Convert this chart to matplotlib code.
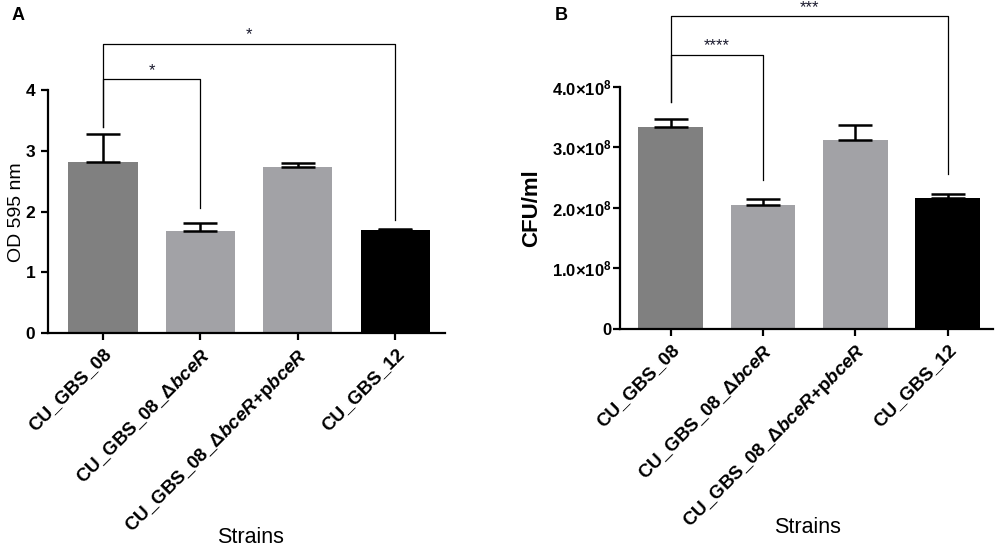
import numpy as np
import matplotlib.pyplot as plt

plt.rcParams['font.family'] = ['Liberation Sans', 'DejaVu Sans']
plt.rcParams['mathtext.fontset'] = 'custom'
plt.rcParams['mathtext.rm'] = 'Liberation Sans:bold'
plt.rcParams['mathtext.it'] = 'Liberation Sans:italic:bold'
plt.rcParams['mathtext.bf'] = 'Liberation Sans:bold'

# --- data ---
strains = ["CU_GBS_08",
           r"CU_GBS_08_$\Delta\mathit{bceR}$",
           r"CU_GBS_08_$\Delta\mathit{bceR}$+p$\mathit{bceR}$",
           "CU_GBS_12"]
od595 = [2.82, 1.69, 2.74, 1.70]
od595_err = [0.47, 0.12, 0.07, 0.01]
cfu = [3.33, 2.04, 3.12, 2.17]          # x 1e8 CFU/ml
cfu_err = [0.14, 0.11, 0.25, 0.06]
bar_colors = ['#808080', '#a2a2a6', '#a2a2a6', '#000000']

# significance brackets: (from bar, to bar, height, left drop, right drop, label)
sig_a = [(0, 1, 4.18, 3.39, 2.07, '*'), (0, 3, 4.77, 3.39, 1.86, '*')]
sig_b = [(0, 1, 4.53, 3.75, 2.46, '****'), (0, 3, 5.17, 3.75, 2.56, '***')]

fig = plt.figure(figsize=(10, 5.48), dpi=100)
x = np.arange(len(strains))


def draw_panel(ax, vals, errs, sigs, width):
    ax.bar(x, vals, width=width, color=bar_colors, edgecolor='none', zorder=2)
    ax.errorbar(x, vals, yerr=[np.zeros(len(vals)), errs], fmt='none',
                ecolor='black', elinewidth=1.8, capsize=12, capthick=1.8, zorder=3)
    for i0, i1, h, d0, d1, lab in sigs:
        ax.plot([i0, i0, i1, i1], [d0, h, h, d1], color='black', lw=0.9,
                clip_on=False, zorder=1)
        ax.text((i0 + i1) / 2, h + 0.02, lab, ha='center', va='bottom',
                fontsize=12, color='#1a1a2e', clip_on=False)
    for s in ['top', 'right']:
        ax.spines[s].set_visible(False)
    for s in ['left', 'bottom']:
        ax.spines[s].set_linewidth(1.6)
    ax.spines['left'].set_bounds(0, 4)
    ax.set_ylim(0, 4)
    ax.set_xticks(x)
    ax.set_xticklabels(strains, rotation=45, ha='right', rotation_mode='anchor',
                       fontsize=13.5, fontweight='bold')
    ax.tick_params(axis='both', width=1.6, length=5, pad=4)
    ax.set_xlabel("Strains", fontsize=15.5)


# Panel A
axA = fig.add_axes([0.048, 0.392, 0.397, 0.443])
draw_panel(axA, od595, od595_err, sig_a, 0.71)
axA.set_xlim(-0.564, 3.51)
axA.set_yticks([0, 1, 2, 3, 4])
axA.set_yticklabels(['0', '1', '2', '3', '4'], fontsize=12.5, fontweight='bold')
axA.set_ylabel("OD 595 nm", fontsize=14)
axA.yaxis.set_label_coords(-0.058, 0.5)
axA.xaxis.set_label_coords(0.509, -0.798)
fig.text(0.018, 0.972, "A", fontsize=13, fontweight='bold', ha='center', va='center')

# Panel B
axB = fig.add_axes([0.620, 0.400, 0.373, 0.4416])
draw_panel(axB, cfu, cfu_err, sig_b, 0.70)
axB.set_xlim(-0.55, 3.49)
axB.set_yticks([0, 1, 2, 3, 4])
axB.set_yticklabels(['0'] + [r"%d.0$\times$10$^{8}$" % v for v in [1, 2, 3, 4]],
                    fontsize=12, fontweight='bold')
axB.tick_params(axis='y', pad=1)
axB.set_ylabel("CFU/ml", fontsize=16, fontweight='bold')
axB.yaxis.set_label_coords(-0.209, 0.5)
axB.xaxis.set_label_coords(0.504, -0.777)
fig.text(0.561, 0.972, "B", fontsize=13, fontweight='bold', ha='center', va='center')

fig.savefig("out.png", dpi=100)
